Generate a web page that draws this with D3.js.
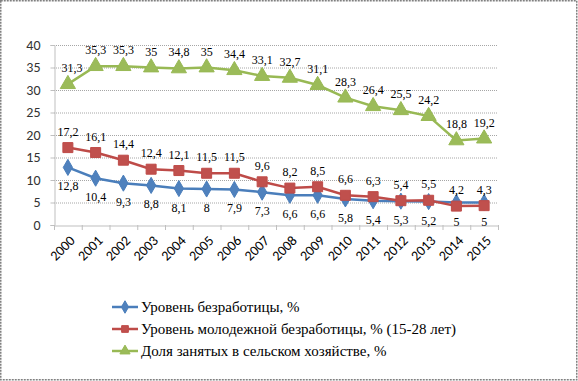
<!DOCTYPE html>
<html><head><meta charset="utf-8">
<script src="https://cdn.jsdelivr.net/npm/d3@7"></script>
<style>body{margin:0;background:#fff}svg{display:block}
.serif{font-family:"Tinos","Liberation Serif","Times New Roman","Times","Nimbus Roman","Nimbus Roman No9 L","FreeSerif","Noto Serif","DejaVu Serif",serif}
</style>
</head><body>
<svg id="c" width="578" height="381"></svg>
<script>
const years = ["2000","2001","2002","2003","2004","2005","2006","2007","2008","2009","2010","2011","2012","2013","2014","2015"];
const unemployment = [12.8,10.4,9.3,8.8,8.1,8,7.9,7.3,6.6,6.6,5.8,5.4,5.3,5.2,5,5];
const youthUnemployment = [17.2,16.1,14.4,12.4,12.1,11.5,11.5,9.6,8.2,8.5,6.6,6.3,5.4,5.5,4.2,4.3];
const agriShare = [31.3,35.3,35.3,35,34.8,35,34.4,33.1,32.7,31.1,28.3,26.4,25.5,24.2,18.8,19.2];
const yTicks = [0,5,10,15,20,25,30,35,40];
const seriesNames = ["Уровень безработицы, %","Уровень молодежной безработицы, % (15-28 лет)","Доля занятых в сельском хозяйстве, %"];

const SANS = "Carlito, Calibri, 'Liberation Sans', Arial, sans-serif";

const svg = d3.select("#c");
const W=578,H=381;
svg.append("rect").attr("x",0.75).attr("y",0.75).attr("width",W-2).attr("height",H-2)
  .attr("fill","#fff").attr("stroke","#808080").attr("stroke-width",1.5).attr("stroke-dasharray","2,1");

const x = d3.scaleBand().domain(years).range([54,498]);
const y = d3.scaleLinear().domain([0,40]).range([225,45]);
const cx = d => x(d)+x.bandwidth()/2;

// grid
svg.append("g").selectAll("line").data(yTicks.filter(t=>t>0)).join("line")
  .attr("x1",54).attr("x2",498).attr("y1",d=>y(d)+0.5).attr("y2",d=>y(d)+0.5)
  .attr("stroke","#a6a6a6").attr("stroke-dasharray","1,1");

// y axis
const ya = svg.append("g").attr("transform","translate(54.5,0)")
  .call(d3.axisLeft(y).tickValues(yTicks).tickSize(4).tickPadding(10).tickFormat(d3.format("d")));
ya.select(".domain").attr("stroke","#bfbfbf");
ya.selectAll(".tick line").attr("stroke","#bfbfbf");
ya.selectAll("text").style("font-family",SANS).style("font-size","14px").attr("fill","#333");

// x axis
const xa = svg.append("g").attr("transform","translate(0,225.5)")
  .call(d3.axisBottom(x).tickSize(0).tickPadding(0));
xa.select(".domain").attr("stroke","#bfbfbf");
xa.selectAll(".tick line").remove();
svg.append("g").selectAll("line").data(years.concat(["end"])).join("line")
  .attr("x1",(d,i)=>54+i*x.step()+0.5).attr("x2",(d,i)=>54+i*x.step()+0.5)
  .attr("y1",225).attr("y2",230).attr("stroke","#bfbfbf");
xa.selectAll("text").style("font-family",SANS)
  .style("font-size","14px").attr("fill","#000")
  .attr("text-anchor","end").attr("dy",0)
  .attr("transform","translate(8,16) rotate(-45)");

const series = [
  {vals:unemployment, color:"#4a7ebb", fill:"#4f81bd", marker:"diamond", lab:"below"},
  {vals:youthUnemployment, color:"#be4b48", fill:"#c0504d", marker:"square", lab:"above"},
  {vals:agriShare, color:"#98b954", fill:"#9bbb59", marker:"triangle", lab:"above"}
];
const symType = {diamond:d3.symbolDiamond, square:d3.symbolSquare, triangle:d3.symbolTriangle};
const symSize = {diamond:75, square:100, triangle:100};
const fmt = v => String(v).replace(".",",");

series.forEach((s)=>{
  const g = svg.append("g");
  g.append("path").datum(s.vals)
   .attr("d", d3.line().x((d,i)=>cx(years[i])).y(d=>y(d)))
   .attr("fill","none").attr("stroke",s.color).attr("stroke-width",2.5);
  g.selectAll(".m").data(s.vals).join("path")
   .attr("transform",(d,i)=>`translate(${cx(years[i])},${y(d)})`)
   .attr("d",d3.symbol().type(symType[s.marker]).size(symSize[s.marker])).attr("fill",s.fill).attr("stroke",s.color).attr("stroke-width",1);
});
series.forEach((s)=>{
  svg.append("g").selectAll("text").data(s.vals).join("text")
   .attr("class","serif")
   .attr("x",(d,i)=>cx(years[i])+ (s.marker==="triangle"&&i===0?4:0))
   .attr("y",d=> s.lab==="below"? y(d)+23 : y(d)-12)
   .attr("text-anchor","middle")
   .style("font-size","12px").attr("fill","#000")
   .text(fmt);
});

// legend
const lg = svg.append("g");
series.forEach((s,i)=>{
  const yy = 307 + i*22;
  lg.append("line").attr("x1",112).attr("x2",138).attr("y1",yy).attr("y2",yy).attr("stroke",s.color).attr("stroke-width",2.5);
  lg.append("path").attr("transform",`translate(125,${yy})`).attr("d",d3.symbol().type(symType[s.marker]).size(45)())
    .attr("fill",s.fill).attr("stroke",s.color);
  lg.append("text").attr("class","serif").attr("x",141).attr("y",yy+5)
    .style("font-size","15px").attr("fill","#000").text(seriesNames[i]);
});
</script>
</body></html>
